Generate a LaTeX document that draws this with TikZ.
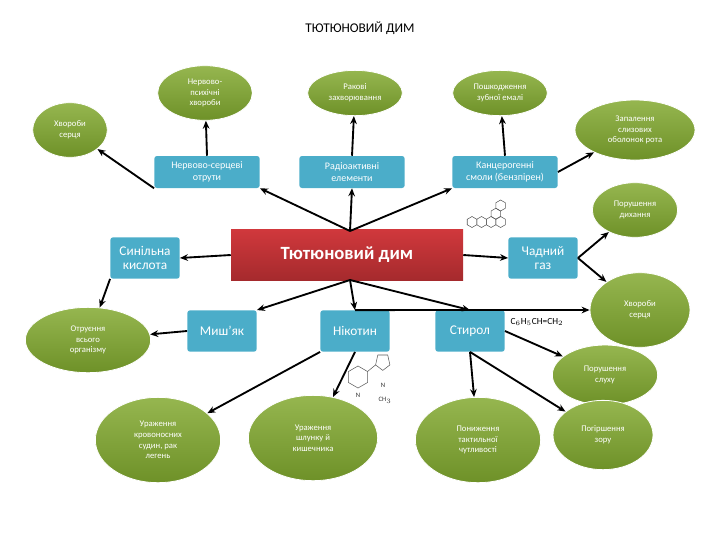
\documentclass[tikz,border=0pt]{standalone}
\usepackage{fontspec}
\setmainfont{Carlito}
\usetikzlibrary{shapes.geometric,arrows.meta,positioning}
\definecolor{gr}{HTML}{8AAE3C}
\definecolor{grd}{HTML}{6E9128}
\definecolor{bl}{HTML}{4BADC9}
\definecolor{rd}{HTML}{D0383C}
\definecolor{rdd}{HTML}{A52A2D}
\tikzset{
 ell/.style={ellipse,draw=white,line width=0.6pt,top color=gr!90!white,bottom color=grd,text=white,font=\fontsize{6.5}{8}\selectfont,align=center,inner sep=0pt},
 bx/.style={rectangle,rounded corners=2pt,fill=bl,text=white,align=center,inner sep=0pt},
 sm/.style={bx,font=\fontsize{7.5}{9}\selectfont},
 bg/.style={bx,font=\fontsize{10}{11}\selectfont},
 ar/.style={-{Stealth[length=6pt,width=5pt]},line width=1.4pt},
}
\begin{document}
\begin{tikzpicture}[x=0.75pt,y=-0.75pt]
\useasboundingbox (0,0) rectangle (720,540);
\node (title) at (360,28) {\fontsize{10}{12}\selectfont ТЮТЮНОВИЙ ДИМ};
% ellipses
\node[ell,minimum width=71pt,minimum height=41pt] (np) at (205,93) {Нервово-\\психічні\\хвороби};
\node[ell,minimum width=71pt,minimum height=34pt] (rz) at (355,93) {Ракові\\захворювання};
\node[ell,minimum width=71pt,minimum height=34pt] (pz) at (500,93) {Пошкодження\\зубної емалі};
\node[ell,minimum width=56pt,minimum height=41pt] (hs1) at (70,130) {Хвороби\\серця};
\node[ell,minimum width=90pt,minimum height=45pt] (zs) at (635,130) {Запалення\\слизових\\оболонок рота};
\node[ell,minimum width=64pt,minimum height=41pt] (pd) at (635,210) {Порушення\\дихання};
\node[ell,minimum width=75pt,minimum height=56pt] (hs2) at (640,310) {Хвороби\\серця};
\node[ell,minimum width=94pt,minimum height=49pt] (ov) at (88,340) {Отруєння\\всього\\організму};
\node[ell,minimum width=79pt,minimum height=45pt] (ps) at (605,375) {Порушення\\слуху};
\node[ell,minimum width=94pt,minimum height=64pt] (uk) at (158,440) {Ураження\\кровоносних\\судин, рак\\легень};
\node[ell,minimum width=97pt,minimum height=64pt] (us) at (313,438) {Ураження\\шлунку й\\кишечника};
\node[ell,minimum width=94pt,minimum height=64pt] (pt) at (478,440) {Пониження\\тактильної\\чутливості};
\node[ell,minimum width=75pt,minimum height=52pt] (pzr) at (603,435) {Погіршення\\зору};
% boxes
\node[sm,minimum width=79pt,minimum height=24pt] (ns) at (207,172) {Нервово-серцеві\\отрути};
\node[sm,minimum width=79pt,minimum height=24pt] (re) at (352,172) {Радіоактивні\\елементи};
\node[sm,minimum width=79pt,minimum height=24pt] (ks) at (505,172) {Канцерогенні\\смоли (бензпірен)};
\node[bg,minimum width=52pt,minimum height=31pt] (sk) at (145,258) {Синільна\\кислота};
\node[bg,minimum width=52pt,minimum height=31pt] (cg) at (543,258) {Чадний\\газ};
\node[bg,minimum width=52pt,minimum height=31pt] (mj) at (222,331) {Миш'як};
\node[bg,minimum width=52pt,minimum height=31pt] (nk) at (355,331) {Нікотин};
\node[bg,minimum width=52pt,minimum height=31pt] (st) at (470,331) {Стирол};
\node[rectangle,top color=rd,bottom color=rdd,minimum width=174pt,minimum height=38pt,text=white,font=\fontsize{14}{16}\selectfont\bfseries] (td) at (347,255) {Тютюновий дим};
\node[font=\fontsize{7}{8}\selectfont,anchor=west] (fm) at (506,322) {C$_6$H$_5$CH=CH$_2$};
\coordinate (tt) at (350,231);
\coordinate (tb) at (350,280);
% arrows
\draw[ar] (tt) -- (ns.south east);
\draw[ar] (tt) -- (re.south);
\draw[ar] (tt) -- (ks.south west);
\draw[ar] (ns.south west) -- (hs1);
\draw[ar] (ns.north) -- (np);
\draw[ar] (re.north) -- (rz);
\draw[ar] (ks.north) -- (pz);
\draw[ar] (ks.east) -- (zs);
\draw[ar] (td.west) -- (sk.east);
\draw[ar] (td.east) -- (cg.west);
\draw[ar] (cg.east) -- (pd);
\draw[ar] (cg.east) -- (hs2);
\draw[ar] (sk.south west) -- (ov);
\draw[ar] (mj.west) -- (ov);
\draw[ar] (tb) -- (mj.north east);
\draw[ar] (tb) -- (nk.north);
\draw[ar] (tb) -- (st.north);
\draw[ar] (nk.north) -- (hs2);
\draw[ar] (nk.south west) -- (uk);
\draw[ar] (nk.south) -- (us);
\draw[ar] (st.south) -- (pt);
\draw[ar] (st.south) -- (pzr);
\draw[ar] (st.east) -- (ps);
% benzopyrene sketch
\begin{scope}[thin,gray!70!black,shift={(472,222)},scale=5.5]
 \foreach \cx/\cy in {0/0,1.732/0,3.464/0,5.196/0,4.33/-1.5,5.196/-3}{
  \draw (\cx,\cy) ++(30:1) -- ++(150:1) -- ++(210:1) -- ++(270:1) -- ++(330:1) -- ++(30:1) -- cycle;}
\end{scope}
% nicotine sketch
\begin{scope}[thin,gray!70!black,shift={(358,377)},scale=11]
 \draw (0,0) ++(30:1) -- ++(150:1) -- ++(210:1) -- ++(270:1) -- ++(330:1) -- ++(30:1) -- cycle;
 \draw (0.866,-0.5) -- (1.6,-1.1);
 \draw (1.6,-1.1) -- (1.8,-2) -- (2.7,-2) -- (2.9,-1.1) -- (2.25,-0.6) -- cycle;
\end{scope}
\node[font=\tiny,gray!40!black] (nn) at (383,385) {N};
\node[font=\tiny,gray!40!black] (nn2) at (358,395) {N};
\node[font=\tiny,gray!40!black] (ch) at (385,400) {CH$_3$};
\end{tikzpicture}
\end{document}
